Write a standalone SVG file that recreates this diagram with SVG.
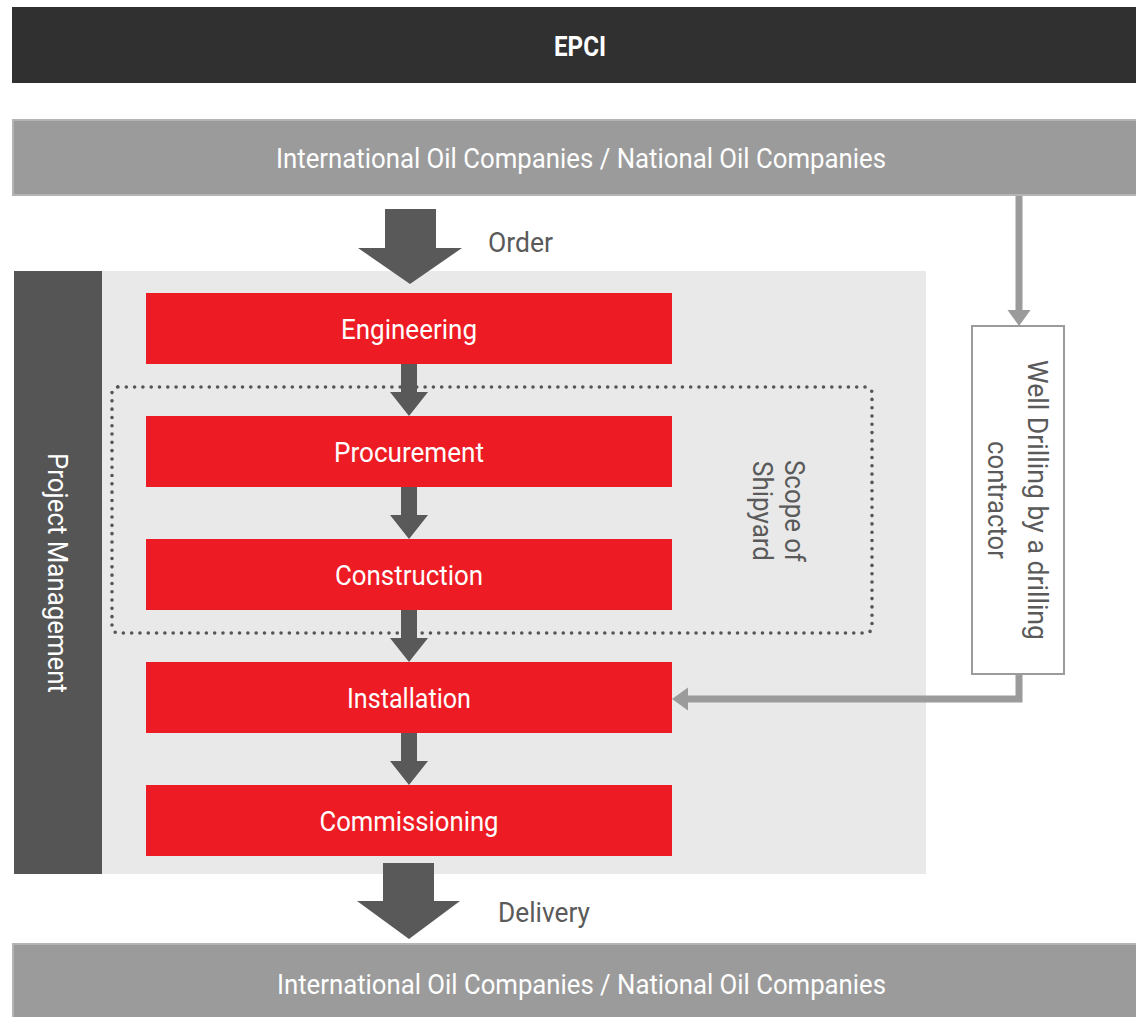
<svg xmlns="http://www.w3.org/2000/svg" width="1136" height="1017" viewBox="0 0 1136 1017">
<style>
  .t { font-family: Roboto, "Liberation Sans", sans-serif; }
  .w { fill: #ffffff; }
  .g { fill: #5a5a5a; }
  .box { fill: #ed1c24; }
  .ioc { fill: #9b9b9b; stroke: #b4b4b4; stroke-width: 2; }
  .blk { fill: #595959; }
  .conn { fill: none; stroke: #9b9b9b; stroke-width: 7; }
</style>
<defs>
  <marker id="ah" markerUnits="userSpaceOnUse" markerWidth="17" markerHeight="24" refX="0" refY="11.5" orient="auto" overflow="visible">
    <path d="M0,0 L16,11.5 L0,23 Z" fill="#9b9b9b"/>
  </marker>
</defs>
<rect width="1136" height="1017" fill="#ffffff"/>

<g id="epci">
  <rect x="12" y="7" width="1124" height="76" fill="#303030"/>
  <text class="t w" x="580" y="56" font-size="28" font-weight="bold" text-anchor="middle" textLength="52" lengthAdjust="spacingAndGlyphs">EPCI</text>
</g>

<g id="ioc-top">
  <rect class="ioc" x="13" y="120" width="1124" height="75"/>
  <text class="t w" x="276" y="168" font-size="28" textLength="610" lengthAdjust="spacingAndGlyphs">International Oil Companies / National Oil Companies</text>
</g>

<g id="panel">
  <rect x="102" y="271" width="824" height="603" fill="#e9e9e9"/>
</g>

<g id="project-management">
  <rect x="14" y="271" width="88" height="603" fill="#555555"/>
  <text class="t w" font-size="28" text-anchor="middle" transform="translate(48,573) rotate(90)" textLength="240" lengthAdjust="spacingAndGlyphs">Project Management</text>
</g>

<g id="scope-of-shipyard">
  <rect x="112" y="387" width="760" height="246" rx="6" fill="none" stroke="#555555" stroke-width="3.6" stroke-dasharray="0 8.3" stroke-linecap="round"/>
  <text class="t g" font-size="28" text-anchor="middle" transform="translate(785,511) rotate(90)" textLength="102" lengthAdjust="spacingAndGlyphs">Scope of</text>
  <text class="t g" font-size="28" text-anchor="middle" transform="translate(753,511) rotate(90)" textLength="100" lengthAdjust="spacingAndGlyphs">Shipyard</text>
</g>

<g id="engineering">
  <rect class="box" x="146" y="293" width="526" height="71"/>
  <text class="t w" x="409" y="339" font-size="27" text-anchor="middle" textLength="136" lengthAdjust="spacingAndGlyphs">Engineering</text>
</g>
<g id="procurement">
  <rect class="box" x="146" y="416" width="526" height="71"/>
  <text class="t w" x="409" y="462" font-size="27" text-anchor="middle" textLength="150" lengthAdjust="spacingAndGlyphs">Procurement</text>
</g>
<g id="construction">
  <rect class="box" x="146" y="539" width="526" height="71"/>
  <text class="t w" x="409" y="585" font-size="27" text-anchor="middle" textLength="148" lengthAdjust="spacingAndGlyphs">Construction</text>
</g>
<g id="installation">
  <rect class="box" x="146" y="662" width="526" height="71"/>
  <text class="t w" x="409" y="708" font-size="27" text-anchor="middle" textLength="124" lengthAdjust="spacingAndGlyphs">Installation</text>
</g>
<g id="commissioning">
  <rect class="box" x="146" y="785" width="526" height="71"/>
  <text class="t w" x="409" y="831" font-size="27" text-anchor="middle" textLength="179" lengthAdjust="spacingAndGlyphs">Commissioning</text>
</g>

<g id="well-drilling">
  <rect x="972" y="326" width="92" height="348" fill="#ffffff" stroke="#9b9b9b" stroke-width="2"/>
  <text class="t g" font-size="28" text-anchor="middle" transform="translate(1028,500) rotate(90)" textLength="280" lengthAdjust="spacingAndGlyphs">Well Drilling by a drilling</text>
  <text class="t g" font-size="28" text-anchor="middle" transform="translate(988,500) rotate(90)" textLength="118" lengthAdjust="spacingAndGlyphs">contractor</text>
</g>

<g id="ioc-bottom">
  <rect class="ioc" x="13" y="944" width="1124" height="74"/>
  <text class="t w" x="277" y="994" font-size="28" textLength="609" lengthAdjust="spacingAndGlyphs">International Oil Companies / National Oil Companies</text>
</g>

<g id="connectors">
  <polygon class="blk" points="385,209 436,209 436,248 462,248 410,284 358,248 385,248"/>
  <text class="t g" x="488" y="252" font-size="27" textLength="65" lengthAdjust="spacingAndGlyphs">Order</text>
  <polygon class="blk" points="401,364 417,364 417,392 428,392 409,416 390,392 401,392"/>
  <polygon class="blk" points="401,487 417,487 417,515 428,515 409,539 390,515 401,515"/>
  <polygon class="blk" points="401,610 417,610 417,638 428,638 409,662 390,638 401,638"/>
  <polygon class="blk" points="401,733 417,733 417,761 428,761 409,785 390,761 401,761"/>
  <polygon class="blk" points="383,863 434,863 434,901 460,901 409,939 357,901 383,901"/>
  <text class="t g" x="498" y="922" font-size="27" textLength="92" lengthAdjust="spacingAndGlyphs">Delivery</text>
  <path class="conn" d="M1019,196 V310" marker-end="url(#ah)"/>
  <path class="conn" d="M1019,674 V699 H688" marker-end="url(#ah)"/>
</g>
</svg>
